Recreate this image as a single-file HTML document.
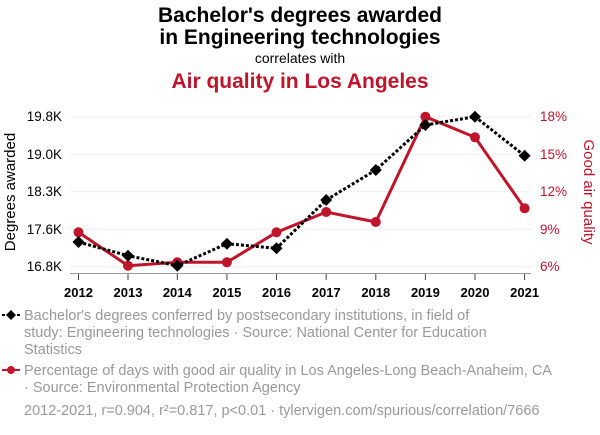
<!DOCTYPE html>
<html><head><meta charset="utf-8"><style>
body{margin:0;background:#fff;width:600px;height:430px;overflow:hidden;font-family:"Liberation Sans",Arial,sans-serif}
</style></head><body>
<svg width="600" height="430" xmlns="http://www.w3.org/2000/svg" font-family="Liberation Sans, Arial, sans-serif">
<text x="300" y="22" text-anchor="middle" font-size="21" font-weight="bold" fill="#000">Bachelor's degrees awarded</text>
<text x="300" y="44" text-anchor="middle" font-size="21" font-weight="bold" fill="#000">in Engineering technologies</text>
<text x="300" y="63" text-anchor="middle" font-size="14" fill="#000">correlates with</text>
<text x="300" y="88" text-anchor="middle" font-size="21" font-weight="bold" fill="#c0142a">Air quality in Los Angeles</text>
<g stroke="#eee" stroke-width="1">
<line x1="70" x2="531" y1="116.7" y2="116.7"/><line x1="70" x2="531" y1="154.2" y2="154.2"/><line x1="70" x2="531" y1="191.7" y2="191.7"/><line x1="70" x2="531" y1="229.2" y2="229.2"/><line x1="70" x2="531" y1="266.7" y2="266.7"/>
</g>
<line x1="70" x2="531" y1="273.5" y2="273.5" stroke="#999"/>
<g stroke="#444" stroke-width="1">
<line x1="78.5" x2="78.5" y1="274" y2="280"/><line x1="128" x2="128" y1="274" y2="280"/><line x1="177.3" x2="177.3" y1="274" y2="280"/><line x1="226.9" x2="226.9" y1="274" y2="280"/><line x1="276.5" x2="276.5" y1="274" y2="280"/><line x1="326.2" x2="326.2" y1="274" y2="280"/><line x1="375.8" x2="375.8" y1="274" y2="280"/><line x1="425.4" x2="425.4" y1="274" y2="280"/><line x1="475" x2="475" y1="274" y2="280"/><line x1="524.6" x2="524.6" y1="274" y2="280"/>
</g>
<g font-size="13" fill="#000" text-anchor="middle" font-weight="bold">
<text x="78.5" y="297">2012</text><text x="128" y="297">2013</text><text x="177.3" y="297">2014</text><text x="226.9" y="297">2015</text><text x="276.5" y="297">2016</text><text x="326.2" y="297">2017</text><text x="375.8" y="297">2018</text><text x="425.4" y="297">2019</text><text x="475" y="297">2020</text><text x="524.6" y="297">2021</text>
</g>
<g font-size="13.5" fill="#000" text-anchor="end">
<text x="62" y="121">19.8K</text><text x="62" y="159">19.0K</text><text x="62" y="196">18.3K</text><text x="62" y="234">17.6K</text><text x="62" y="271">16.8K</text>
</g>
<g font-size="13.5" fill="#c0142a" text-anchor="start">
<text x="540" y="121">18%</text><text x="540" y="159">15%</text><text x="540" y="196">12%</text><text x="540" y="234">9%</text><text x="540" y="271">6%</text>
</g>
<text transform="translate(15,192) rotate(-90)" text-anchor="middle" font-size="15" fill="#000">Degrees awarded</text>
<text transform="translate(584,192) rotate(90)" text-anchor="middle" font-size="15" fill="#c0142a">Good air quality</text>
<polyline fill="none" stroke="#c0142a" stroke-width="3" points="78.5,232.3 128,265.7 177.3,262.3 226.9,262.3 276.5,232.3 326.2,212 375.8,222 425.4,116.7 475,137.3 524.6,208.3"/>
<g fill="#c0142a">
<circle cx="78.5" cy="232.3" r="5"/><circle cx="128" cy="265.7" r="5"/><circle cx="177.3" cy="262.3" r="5"/><circle cx="226.9" cy="262.3" r="5"/><circle cx="276.5" cy="232.3" r="5"/><circle cx="326.2" cy="212" r="5"/><circle cx="375.8" cy="222" r="5"/><circle cx="425.4" cy="116.7" r="5"/><circle cx="475" cy="137.3" r="5"/><circle cx="524.6" cy="208.3" r="5"/>
</g>
<polyline fill="none" stroke="#000" stroke-width="3" stroke-dasharray="3,2" points="78.5,242 128,255.7 177.3,265.7 226.9,243.7 276.5,248.3 326.2,200 375.8,170 425.4,125 475,116.7 524.6,155.7"/>
<g fill="#000">
<path d="M78.5,236 l6,6 l-6,6 l-6,-6z"/><path d="M128,249.7 l6,6 l-6,6 l-6,-6z"/><path d="M177.3,259.7 l6,6 l-6,6 l-6,-6z"/><path d="M226.9,237.7 l6,6 l-6,6 l-6,-6z"/><path d="M276.5,242.3 l6,6 l-6,6 l-6,-6z"/><path d="M326.2,194 l6,6 l-6,6 l-6,-6z"/><path d="M375.8,164 l6,6 l-6,6 l-6,-6z"/><path d="M425.4,119 l6,6 l-6,6 l-6,-6z"/><path d="M475,110.7 l6,6 l-6,6 l-6,-6z"/><path d="M524.6,149.7 l6,6 l-6,6 l-6,-6z"/>
</g>
<line x1="2" x2="20" y1="315" y2="315" stroke="#000" stroke-width="2" stroke-dasharray="3,2"/>
<path d="M11,310 l5,5 l-5,5 l-5,-5z" fill="#000"/>
<g font-size="14.5" fill="#999">
<text x="24" y="320">Bachelor's degrees conferred by postsecondary institutions, in field of</text>
<text x="24" y="337">study: Engineering technologies · Source: National Center for Education</text>
<text x="24" y="354">Statistics</text>
<text x="24" y="375">Percentage of days with good air quality in Los Angeles-Long Beach-Anaheim, CA</text>
<text x="24" y="392">· Source: Environmental Protection Agency</text>
<text x="24" y="415">2012-2021, r=0.904, r²=0.817, p&lt;0.01 · tylervigen.com/spurious/correlation/7666</text>
</g>
<line x1="2" x2="20" y1="370" y2="370" stroke="#c0142a" stroke-width="2"/>
<circle cx="11" cy="370" r="4" fill="#c0142a"/>
</svg>
</body></html>
